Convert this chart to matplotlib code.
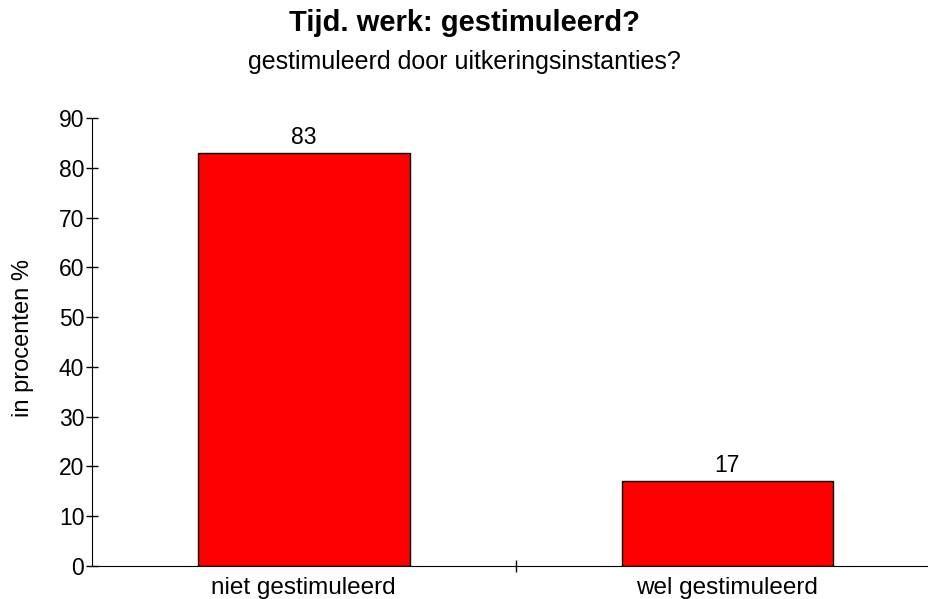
import matplotlib.pyplot as plt

plt.rcParams['font.family'] = ['Liberation Sans', 'DejaVu Sans']

categories = ['niet gestimuleerd', 'wel gestimuleerd']
values = [83, 17]
yticks = [0, 10, 20, 30, 40, 50, 60, 70, 80, 90]

fig = plt.figure(figsize=(9.29, 5.99), dpi=100)
ax = fig.add_axes([0.099, 0.0551, 0.912, 0.7479])

x = list(range(len(categories)))
ax.bar(x, values, width=0.5, color='#ff0000', edgecolor='black', linewidth=1)
for xi, v in zip(x, values):
    ax.text(xi, v + 0.8, str(v), ha='center', va='bottom', fontsize=16.5)

ax.set_xlim(-0.5, 1.5)
ax.set_ylim(0, 90)
ax.set_yticks(yticks)
ax.set_yticklabels([str(t) for t in yticks], fontsize=16.5)
ax.set_xticks([0.5])
ax.set_xticklabels([''])
ax.tick_params(axis='y', direction='inout', length=9, width=1, pad=1)
ax.tick_params(axis='x', direction='inout', length=9, width=1)
for xi, c in zip(x, categories):
    ax.text(xi, -2.3, c, ha='center', va='top', fontsize=17.5)

ax.spines['top'].set_visible(False)
ax.spines['right'].set_visible(False)
ax.set_ylabel('in procenten %', fontsize=17)
ax.yaxis.set_label_coords(-0.068, 0.51)

fig.text(0.5, 0.962, 'Tijd. werk: gestimuleerd?', ha='center', va='center',
         fontsize=21, fontweight='bold')
fig.text(0.5, 0.897, 'gestimuleerd door uitkeringsinstanties?', ha='center',
         va='center', fontsize=18)

fig.savefig('out.png', dpi=100)
